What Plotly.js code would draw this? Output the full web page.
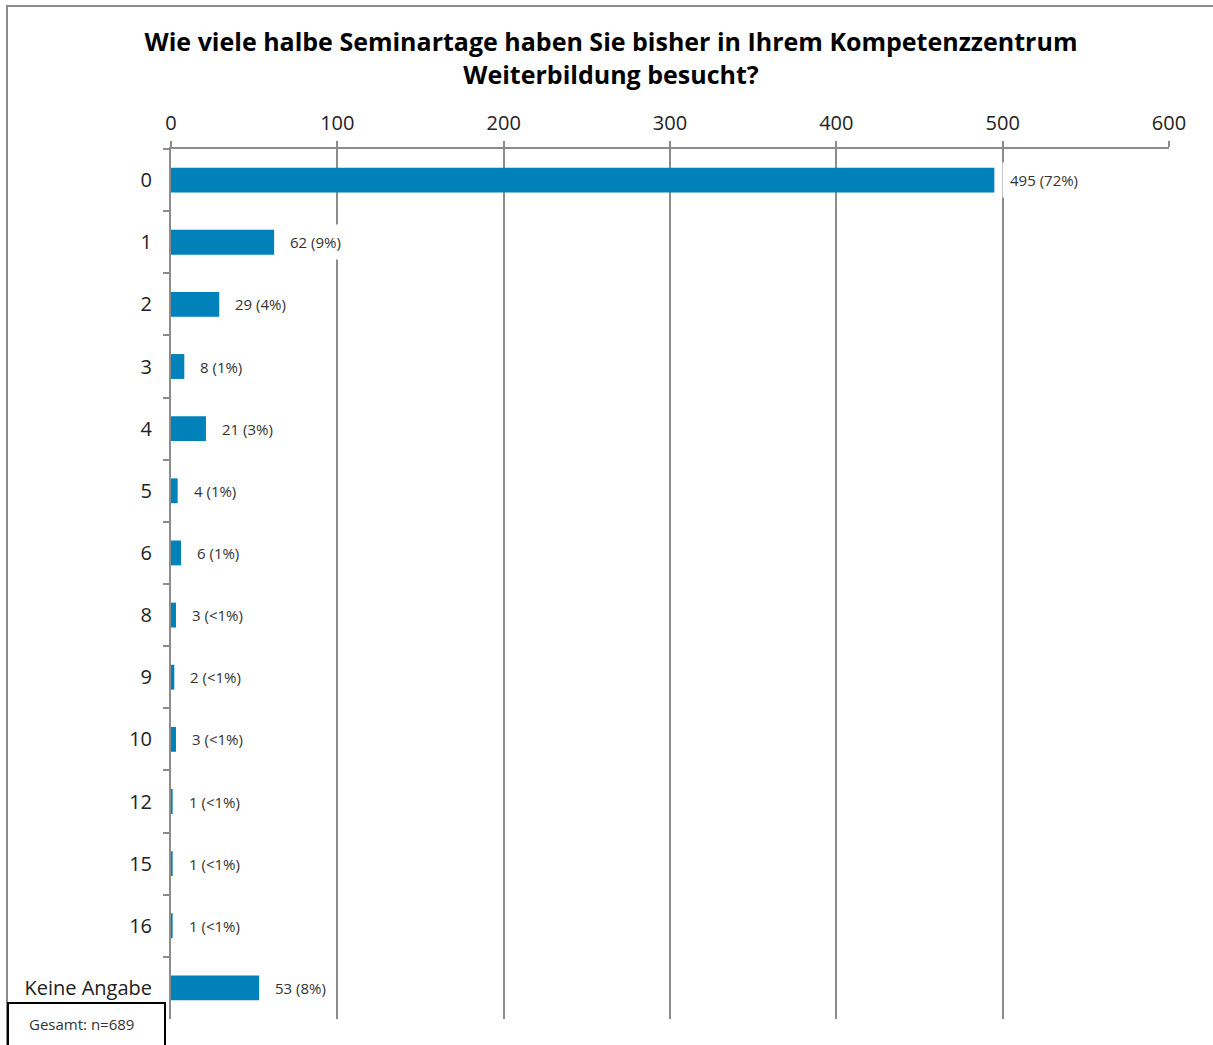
<!DOCTYPE html>
<html>
<head>
<meta charset="utf-8">
<script src="https://cdn.plot.ly/plotly-3.0.1.min.js"></script>
<style>html,body{margin:0;padding:0;background:#fff;}#chart{width:1213px;height:1045px;}</style>
</head>
<body>
<div id="chart"></div>
<script>
const categories = ["0","1","2","3","4","5","6","8","9","10","12","15","16","Keine Angabe"];
const counts = [495, 62, 29, 8, 21, 4, 6, 3, 2, 3, 1, 1, 1, 53];
const percentLabels = ["72%","9%","4%","1%","3%","1%","1%","<1%","<1%","<1%","<1%","<1%","<1%","8%"];
const xTicks = [0, 100, 200, 300, 400, 500, 600];
const titleText = "Wie viele halbe Seminartage haben Sie bisher in Ihrem Kompetenzzentrum<br>Weiterbildung besucht?";
const totalNote = "Gesamt: n=689";

const W = 1213, H = 1045;
const m = {l: 171, r: 44, t: 149, b: 26};
const pw = W - m.l - m.r, ph = H - m.t - m.b;
const px = v => (v - m.l) / pw;
const py = v => (H - m.b - v) / ph;

const FONT = "Open Sans, Noto Sans, sans-serif";

const trace = {
  type: "bar",
  orientation: "h",
  x: counts,
  y: categories,
  width: 0.4,
  marker: {color: "#0081b9"},
  hoverinfo: "skip"
};

const annotations = categories.map((c, i) => ({
  x: counts[i], y: i, xref: "x", yref: "y",
  text: counts[i] + " (" + percentLabels[i] + ")",
  showarrow: false, xanchor: "left", yanchor: "middle",
  xshift: 8, bgcolor: "#ffffff", borderpad: 7,
  font: {family: FONT, size: 15, color: "#333333"}
}));
annotations.push({
  xref: "paper", yref: "paper",
  x: px(27), y: py(1024), xanchor: "left", yanchor: "middle",
  text: totalNote, showarrow: false,
  font: {family: FONT, size: 15, color: "#333333"}
});

const layout = {
  width: W, height: H,
  margin: m,
  paper_bgcolor: "#ffffff", plot_bgcolor: "#ffffff",
  showlegend: false,
  title: {
    text: titleText,
    font: {family: FONT, size: 25, color: "#000000", weight: "bold"},
    x: 611 / W, xanchor: "center",
    y: 1 - 51 / H, yanchor: "middle", yref: "container"
  },
  xaxis: {
    side: "top", range: [0, 600], tickvals: xTicks,
    showgrid: true, gridcolor: "#8c8c8c", gridwidth: 2,
    zeroline: false, showline: true, linecolor: "#8c8c8c", linewidth: 2,
    ticks: "outside", ticklen: 6, tickcolor: "#8c8c8c", tickwidth: 2,
    ticklabelstandoff: 3,
    tickfont: {family: FONT, size: 20, color: "#222222"},
    fixedrange: true
  },
  yaxis: {
    type: "category", range: [categories.length - 0.5, -0.5],
    tickson: "boundaries",
    showline: true, linecolor: "#8c8c8c", linewidth: 2,
    ticks: "outside", ticklen: 6, tickcolor: "#8c8c8c", tickwidth: 2,
    ticklabelstandoff: 13,
    showgrid: false, zeroline: false,
    tickfont: {family: FONT, size: 20, color: "#222222"},
    fixedrange: true
  },
  annotations: annotations,
  shapes: [
    {type: "rect", xref: "paper", yref: "paper",
     x0: px(7), x1: px(1225), y0: py(1060), y1: py(6),
     line: {color: "#8c8c8c", width: 2}, fillcolor: "rgba(0,0,0,0)", layer: "below"},
    {type: "rect", xref: "paper", yref: "paper",
     x0: px(8), x1: px(165), y0: py(1060), y1: py(1003),
     line: {color: "#000000", width: 2}, fillcolor: "#ffffff", layer: "above"}
  ]
};

Plotly.newPlot("chart", [trace], layout, {staticPlot: true, displayModeBar: false});
</script>
</body>
</html>
